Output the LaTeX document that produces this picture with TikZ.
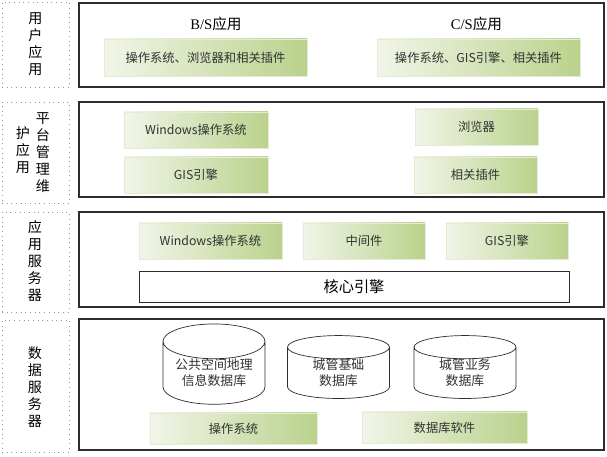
\documentclass[tikz,border=0pt]{standalone}
\usepackage{fontspec}
\setmainfont{Liberation Serif}
\newfontfamily\cjk{Noto Sans CJK SC}
\usepackage{tikz}
\usetikzlibrary{shapes.geometric, positioning, calc}
\definecolor{framedark}{RGB}{45,45,45}
\definecolor{sidegray}{RGB}{150,150,150}
\definecolor{gblight}{RGB}{241,245,232}
\definecolor{gbdark}{RGB}{186,210,140}
\definecolor{gbline}{RGB}{228,236,214}
\definecolor{gbtext}{RGB}{50,50,50}
\tikzset{
  layer/.style={rectangle, draw=framedark, line width=1.1pt, inner sep=0pt,
    minimum width=15.75cm},
  sidebox/.style={rectangle, draw=sidegray, line width=0.6pt,
    dash pattern=on 0.7pt off 3.3pt, inner sep=0pt, minimum width=2.01cm},
  sidelabel/.style={align=center, inner sep=0pt, font=\cjk\fontsize{12}{14.6}\selectfont},
  gbox/.style={rectangle, draw=gbline, line width=0.6pt, left color=gblight, right color=gbdark,
    align=center, inner sep=0pt, text=gbtext, font=\cjk\fontsize{10.5}{12}\selectfont},
  title/.style={inner sep=0pt, font=\fontsize{12.5}{14}\selectfont},
  dbcyl/.style={cylinder, shape border rotate=90, aspect=0.45, draw=framedark,
    line width=0.6pt, fill=white, minimum width=3.06cm, minimum height=1.77cm,
    align=center, inner sep=0pt, font=\cjk\fontsize{11}{13.5}\selectfont, text=gbtext}
}
\begin{document}
\begin{tikzpicture}[x=0.03cm, y=-0.03cm]
  \useasboundingbox (0,0) rectangle (607,457);

  % Layer 1: user applications
  \node[sidebox, minimum height=2.55cm] (side1) at (35.5,44.5) {};
  \node[sidelabel] (lab1) at (side1) {用\\户\\应\\用};
  \node[layer, minimum height=2.52cm] (frame1) at (341.5,45) {};
  \node[title] (bs) at (216,24) {B/S{\cjk 应用}};
  \node[title] (cs) at (476.5,24) {C/S{\cjk 应用}};
  \node[gbox, minimum width=6.09cm, minimum height=1.11cm] (bsbox) at (205.5,57.5) {操作系统、浏览器和相关插件};
  \node[gbox, minimum width=6.09cm, minimum height=1.11cm] (csbox) at (478.5,57.5) {操作系统、GIS引擎、相关插件};

  % Layer 2: platform maintenance
  \node[sidebox, minimum height=3.03cm] (side2) at (35.5,152.5) {};
  \node[sidelabel] (lab2a) at (43,152.5) {平\\台\\管\\理\\维};
  \node[sidelabel] (lab2b) at (23,150) {护\\应\\用};
  \node[layer, minimum height=2.85cm] (frame2) at (341.5,149.5) {};
  \node[gbox, minimum width=4.32cm, minimum height=1.08cm] (win2) at (196,130) {Windows操作系统};
  \node[gbox, minimum width=3.69cm, minimum height=1.08cm] (browser) at (476.5,127) {浏览器};
  \node[gbox, minimum width=4.32cm, minimum height=1.08cm] (gis2) at (196,175) {GIS引擎};
  \node[gbox, minimum width=3.69cm, minimum height=1.08cm] (plugin) at (475.5,175) {相关插件};

  % Layer 3: application server
  \node[sidebox, minimum height=3.0cm] (side3) at (35.5,262) {};
  \node[sidelabel] (lab3) at (35,261) {应\\用\\服\\务\\器};
  \node[layer, minimum height=2.85cm] (frame3) at (341.5,259.5) {};
  \node[gbox, minimum width=4.29cm, minimum height=1.08cm] (win3) at (210.5,241) {Windows操作系统};
  \node[gbox, minimum width=3.66cm, minimum height=1.08cm] (middle) at (364,241) {中间件};
  \node[gbox, minimum width=3.66cm, minimum height=1.08cm] (gis3) at (507,241) {GIS引擎};
  \node[draw=framedark, line width=0.8pt, fill=white, minimum width=12.9cm, minimum height=0.93cm,
    inner sep=0pt, font=\cjk\fontsize{13}{14}\selectfont] (core) at (354,286.5) {核心引擎};

  % Layer 4: data server
  \node[sidebox, minimum height=3.96cm] (side4) at (35.5,386) {};
  \node[sidelabel] (lab4) at (35,387) {数\\据\\服\\务\\器};
  \node[layer, minimum height=3.93cm] (frame4) at (341.5,384.5) {};
  \node[dbcyl] (db1) at (214,373) {公共空间地理\\信息数据库};
  \node[dbcyl] (db2) at (338.5,373) {城管基础\\数据库};
  \node[dbcyl] (db3) at (465,373) {城管业务\\数据库};
  \node[gbox, minimum width=5.01cm, minimum height=0.93cm] (os4) at (233.5,428.5) {操作系统};
  \node[gbox, minimum width=4.95cm, minimum height=0.93cm] (dbsoft) at (444.5,427.5) {数据库软件};
\end{tikzpicture}
\end{document}
